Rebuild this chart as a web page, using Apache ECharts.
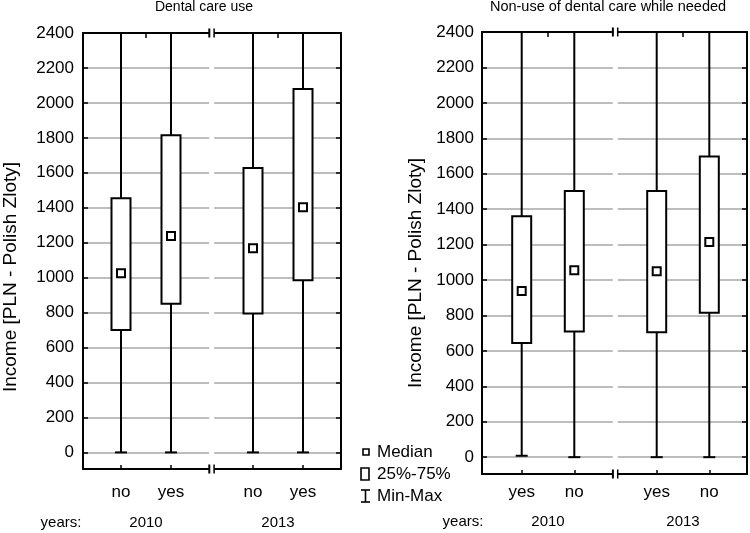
<!DOCTYPE html>
<html>
<head>
<meta charset="utf-8">
<script src="https://cdn.jsdelivr.net/npm/echarts@6/dist/echarts.min.js"></script>
<style>html,body{margin:0;padding:0;background:#fff}#c{width:750px;height:533px}</style>
</head>
<body>
<div id="c"></div>
<script>
// ---------- data ----------
const panelTitles = ['Dental care use', 'Non-use of dental care while needed'];
const yAxisName = 'Income [PLN - Polish Zloty]';
const yearsLabel = 'years:';
const years = ['2010', '2013'];
const dentalUseCats = ['no', 'yes'];
const nonUseCats = ['yes', 'no'];
const yLabelValues = [0, 200, 400, 600, 800, 1000, 1200, 1400, 1600, 1800, 2000, 2200, 2400];
const yTickValues = [0, 200, 400, 600, 800, 1000, 1200, 1400, 1600, 1800, 2000, 2200];
// each box: [min, q25, median, q75, max]
const dentalUse2010 = [[0, 700, 1025, 1455, 2400], [0, 850, 1238, 1815, 2400]];
const dentalUse2013 = [[0, 795, 1168, 1628, 2400], [0, 985, 1403, 2080, 2400]];
const nonUse2010 = [[8, 645, 938, 1360, 2400], [0, 710, 1055, 1502, 2400]];
const nonUse2013 = [[0, 705, 1050, 1502, 2400], [0, 815, 1215, 1697, 2400]];
const legendLabels = ['Median', '25%-75%', 'Min-Max'];

// ---------- layout ----------
const FONT = "'Liberation Sans', Arial, sans-serif";
const Y_MIN = -95, Y_MAX = 2400;
const panels = [
  { frame: { left: 83, top: 33, width: 258, height: 436 },
    groups: [{ left: 96, width: 100 }, { left: 228, width: 100 }],
    cats: dentalUseCats, data: [dentalUse2010, dentalUse2013],
    labelMargin: 9, xMargin: 15, yearOffset: 38, titleSize: 14,
    titleX: 204, nameX: 11, nameY: 277, yearsX: 61, yearsY: 523, brk: 211.7 },
  { frame: { left: 482, top: 32, width: 265, height: 442 },
    groups: [{ left: 495.4, width: 105.2 }, { left: 630.4, width: 105.2 }],
    cats: nonUseCats, data: [nonUse2010, nonUse2013],
    labelMargin: 8, xMargin: 10, yearOffset: 32, titleSize: 14.5,
    titleX: 608, nameX: 416, nameY: 273, yearsX: 463, yearsY: 521.5, brk: 615.3 }
];

const grids = [], xAxes = [], yAxes = [], series = [], graphics = [];
const black = '#000';

function renderBox(params, api) {
  const idx = api.value(0);
  const pMin = api.coord([idx, api.value(1)]);
  const pQ1 = api.coord([idx, api.value(2)]);
  const pMed = api.coord([idx, api.value(3)]);
  const pQ3 = api.coord([idx, api.value(4)]);
  const pMax = api.coord([idx, api.value(5)]);
  const x = pMin[0];
  const bw = 19, cw = 12, ms = 8;
  const ls = { stroke: black, lineWidth: 2 };
  return {
    type: 'group',
    children: [
      { type: 'line', shape: { x1: x, y1: pMax[1], x2: x, y2: pQ3[1] }, style: ls },
      { type: 'line', shape: { x1: x, y1: pQ1[1], x2: x, y2: pMin[1] }, style: ls },
      { type: 'line', shape: { x1: x - cw / 2, y1: pMin[1], x2: x + cw / 2, y2: pMin[1] }, style: ls },
      { type: 'rect', shape: { x: x - bw / 2, y: pQ3[1], width: bw, height: pQ1[1] - pQ3[1] }, style: { stroke: black, lineWidth: 2, fill: '#fff' } },
      { type: 'rect', shape: { x: x - ms / 2, y: pMed[1] - ms / 2, width: ms, height: ms }, style: { stroke: black, lineWidth: 2, fill: '#fff' } }
    ]
  };
}

panels.forEach((p, pi) => {
  // frame grid
  const fg = grids.length;
  grids.push(Object.assign({ containLabel: false }, p.frame));
  const axLine = { show: true, onZero: false, lineStyle: { color: black, width: 2 } };
  xAxes.push({ gridIndex: fg, type: 'value', min: 0, max: 1, position: 'bottom', axisLine: axLine, axisTick: { show: false }, axisLabel: { show: false }, splitLine: { show: false } });
  xAxes.push({ gridIndex: fg, type: 'value', min: 0, max: 1, position: 'top', axisLine: axLine, axisTick: { show: false }, axisLabel: { show: false }, splitLine: { show: false } });
  yAxes.push({ gridIndex: fg, type: 'value', min: Y_MIN, max: Y_MAX, position: 'left',
    axisLine: axLine,
    axisTick: { show: true, inside: true, length: 5, customValues: yTickValues, lineStyle: { color: black, width: 1.5 } },
    axisLabel: { show: true, customValues: yLabelValues, formatter: v => String(v), margin: p.labelMargin, color: black, fontSize: 17, fontFamily: FONT },
    splitLine: { show: true, lineStyle: { color: '#bdbdbd', width: 2 } } });
  yAxes.push({ gridIndex: fg, type: 'value', min: Y_MIN, max: Y_MAX, position: 'right',
    axisLine: axLine,
    axisTick: { show: true, inside: true, length: 5, customValues: yTickValues, lineStyle: { color: black, width: 1.5 } },
    axisLabel: { show: false }, splitLine: { show: false } });

  p.groups.forEach((g, gi) => {
    const gIdx = grids.length;
    grids.push({ left: g.left, width: g.width, top: p.frame.top, height: p.frame.height });
    const xi = xAxes.length;
    xAxes.push({ gridIndex: gIdx, type: 'category', data: p.cats, position: 'bottom', boundaryGap: true,
      axisLine: { show: false, onZero: false },
      axisTick: { show: true, inside: true, alignWithLabel: true, length: 4, lineStyle: { color: black, width: 1.5 } },
      axisLabel: { show: true, margin: p.xMargin, color: black, fontSize: 17, fontFamily: FONT },
      splitLine: { show: false } });
    xAxes.push({ gridIndex: gIdx, type: 'category', data: [years[gi]], position: 'bottom', offset: p.yearOffset,
      axisLine: { show: false, onZero: false }, axisTick: { show: false },
      axisLabel: { show: true, margin: 8, color: black, fontSize: 15, fontFamily: FONT }, splitLine: { show: false } });
    xAxes.push({ gridIndex: gIdx, type: 'category', data: [years[gi]], position: 'top',
      axisLine: { show: false, onZero: false },
      axisTick: { show: true, inside: true, alignWithLabel: true, length: 5, lineStyle: { color: black, width: 1.5 } },
      axisLabel: { show: false }, splitLine: { show: false } });
    const yi = yAxes.length;
    yAxes.push({ gridIndex: gIdx, type: 'value', min: Y_MIN, max: Y_MAX, show: false });
    series.push({
      type: 'custom', xAxisIndex: xi, yAxisIndex: yi, renderItem: renderBox,
      encode: { x: 0, y: [1, 2, 3, 4, 5] },
      data: p.data[gi].map((b, i) => [i].concat(b)),
      z: 5
    });
  });

  // title
  graphics.push({ type: 'text', x: p.titleX, y: 7, z: 10,
    style: { text: panelTitles[pi], align: 'center', verticalAlign: 'middle', fill: black, fontSize: p.titleSize, fontFamily: FONT } });
  // y axis name
  graphics.push({ type: 'text', x: p.nameX, y: p.nameY, rotation: Math.PI / 2, z: 10,
    style: { text: yAxisName, align: 'center', verticalAlign: 'middle', fill: black, fontSize: 19, fontFamily: FONT } });
  // years:
  graphics.push({ type: 'text', x: p.yearsX, y: p.yearsY, z: 10,
    style: { text: yearsLabel, align: 'center', verticalAlign: 'middle', fill: black, fontSize: 15, fontFamily: FONT } });
  // axis break marks
  const t = p.frame.top, b = p.frame.top + p.frame.height;
  graphics.push({ type: 'rect', z: 20, shape: { x: p.brk - 2.5, y: t - 3, width: 5, height: b - t + 6 }, style: { fill: '#fff' } });
  [t, b].forEach(yy => {
    graphics.push({ type: 'line', z: 21, shape: { x1: p.brk - 2.4, y1: yy - 4.5, x2: p.brk - 2.4, y2: yy + 4.5 }, style: { stroke: black, lineWidth: 2 } });
    graphics.push({ type: 'line', z: 21, shape: { x1: p.brk + 2.4, y1: yy - 4.5, x2: p.brk + 2.4, y2: yy + 4.5 }, style: { stroke: black, lineWidth: 1.5 } });
  });
});

// legend (drawn as graphics)
const lgX = 377;
const lgY = [452, 474.5, 496];
graphics.push({ type: 'rect', z: 10, shape: { x: 363, y: 449, width: 6, height: 6 }, style: { stroke: black, lineWidth: 1.6, fill: '#fff' } });
graphics.push({ type: 'rect', z: 10, shape: { x: 361, y: 468, width: 8, height: 12 }, style: { stroke: black, lineWidth: 1.6, fill: '#fff' } });
graphics.push({ type: 'line', z: 10, shape: { x1: 365.5, y1: 490, x2: 365.5, y2: 502 }, style: { stroke: black, lineWidth: 1.6 } });
graphics.push({ type: 'line', z: 10, shape: { x1: 361, y1: 490, x2: 370, y2: 490 }, style: { stroke: black, lineWidth: 1.6 } });
graphics.push({ type: 'line', z: 10, shape: { x1: 361, y1: 502, x2: 370, y2: 502 }, style: { stroke: black, lineWidth: 1.6 } });
legendLabels.forEach((lab, i) => {
  graphics.push({ type: 'text', x: lgX, y: lgY[i], z: 10,
    style: { text: lab, align: 'left', verticalAlign: 'middle', fill: black, fontSize: 17, fontFamily: FONT } });
});

const chart = echarts.init(document.getElementById('c'), null, { renderer: 'canvas' });
chart.setOption({
  animation: false,
  backgroundColor: '#fff',
  grid: grids,
  xAxis: xAxes,
  yAxis: yAxes,
  series: series,
  graphic: { elements: graphics }
});
</script>
</body>
</html>
